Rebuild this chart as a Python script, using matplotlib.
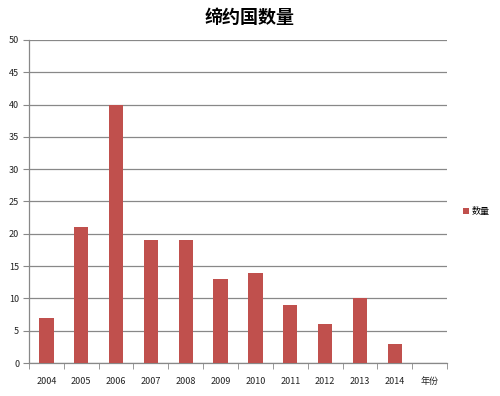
#!/usr/bin/python3

# Bar chart of the number of contracting states per year

import matplotlib
matplotlib.use("Agg")
import matplotlib.pyplot as plt
import numpy as np

plt.rcParams['font.family'] = ['Noto Sans CJK SC', 'DejaVu Sans']

categories = ["2004", "2005", "2006", "2007", "2008", "2009", "2010",
              "2011", "2012", "2013", "2014", "年份"]
counts = [7, 21, 40, 19, 19, 13, 14, 9, 6, 10, 3, 0]
title = "缔约国数量"
series_name = "数量"

fig = plt.figure(figsize=(5, 3.96), dpi=100)
ax = fig.add_axes([0.058, 0.0833, 0.836, 0.816])

x = np.arange(len(categories))
ax.bar(x, counts, width=0.41, color="#C0504D", zorder=3, label=series_name)

ax.set_xlim(-0.5, len(categories) - 0.5)
ax.set_ylim(0, 50)
ax.set_yticks(np.arange(0, 51, 5))
ax.yaxis.grid(True, color="#888888", linewidth=0.9, zorder=0)

# category labels centred, tick marks between categories
ax.set_xticks(x)
ax.set_xticklabels(categories, fontsize=6.5, color="#222222")
ax.set_xticks(np.arange(-0.5, len(categories), 1), minor=True)
ax.tick_params(axis='x', which='major', length=0, pad=10)
ax.tick_params(axis='x', which='minor', length=4, color="#888888")
ax.tick_params(axis='y', labelsize=6.5, length=4, color="#888888",
               labelcolor="#222222", pad=3)

for s in ["top", "right"]:
    ax.spines[s].set_visible(False)
for s in ["left", "bottom"]:
    ax.spines[s].set_color("#888888")
    ax.spines[s].set_linewidth(0.9)

fig.text(0.5, 0.955, title, ha="center", va="center", fontsize=13,
         fontweight="bold")

leg = fig.legend(loc="center left", bbox_to_anchor=(0.91, 0.465),
                 frameon=False, fontsize=6.5, handlelength=0.6,
                 handleheight=0.6, handletextpad=0.4)

plt.savefig("out.png", dpi=100)
